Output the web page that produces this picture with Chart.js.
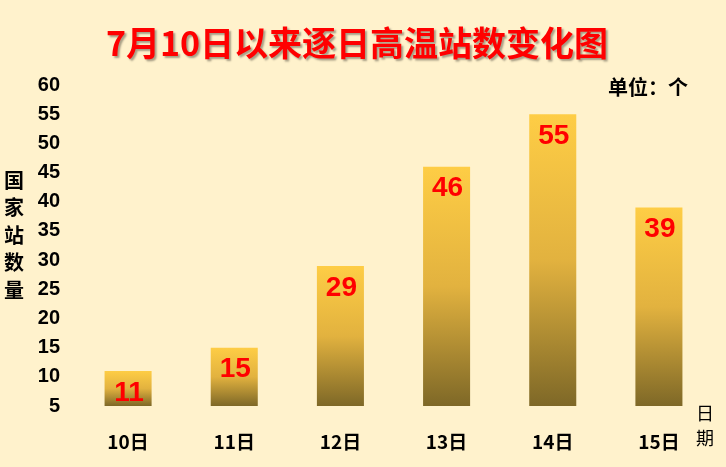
<!DOCTYPE html>
<html>
<head>
<meta charset="utf-8">
<script src="https://cdn.jsdelivr.net/npm/chart.js@4"></script>
<style>
  html, body { margin:0; padding:0; background:#FFF2CC; }
  #wrap { width:726px; height:467px; position:relative; }
</style>
</head>
<body>
<div id="wrap"><canvas id="myChart"></canvas></div>
<script>
// data
var days = ['10日', '11日', '12日', '13日', '14日', '15日'];
var stations = [11, 15, 29, 46, 55, 39];
var yTicks = [5, 10, 15, 20, 25, 30, 35, 40, 45, 50, 55, 60];
var titleText = '7月10日以来逐日高温站数变化图';
var yTitle = ['国', '家', '站', '数', '量'];
var xTitle = ['日', '期'];
var unitText = '单位：个';

var cjk = '"Noto Sans CJK SC", "Liberation Sans", sans-serif';
var latin = '"Liberation Sans", Arial, sans-serif';

function barGradient(ctx) {
    var chart = ctx.chart;
    if (!chart.chartArea || ctx.raw === undefined) return '#E8B840';
    var y = chart.scales.y;
    var top = y.getPixelForValue(ctx.raw);
    var bottom = y.getPixelForValue(y.min);
    var g = chart.ctx.createLinearGradient(0, top, 0, bottom);
    g.addColorStop(0, '#FECD45');
    g.addColorStop(0.5, '#E2B23F');
    g.addColorStop(1, '#7E6827');
    return g;
}

// texts that sit outside the axes, plus the red value labels
var extras = {
    id: 'extras',
    afterDatasetsDraw: function(chart) {
        var c = chart.ctx;
        c.save();
        // value labels inside the bars
        var meta = chart.getDatasetMeta(0);
        c.fillStyle = '#FF0000';
        c.font = 'bold 28px ' + latin;
        c.textAlign = 'center';
        c.textBaseline = 'middle';
        meta.data.forEach(function(bar, i) {
            c.fillText(String(stations[i]), bar.x + 1, bar.y + 22);
        });
        // title with a soft shadow
        c.font = 'bold 34px ' + cjk;
        c.shadowColor = 'rgba(0,0,0,0.35)';
        c.shadowOffsetX = 2;
        c.shadowOffsetY = 2;
        c.shadowBlur = 2;
        c.fillText(titleText, 357, 43);
        c.shadowColor = 'transparent';
        // unit
        c.fillStyle = '#000';
        c.font = 'bold 20px ' + cjk;
        c.fillText(unitText, 648, 87);
        // y axis title, vertical
        c.font = 'bold 20px ' + cjk;
        yTitle.forEach(function(ch, i) {
            c.fillText(ch, 14, 180 + i * 27.5);
        });
        // x axis title, vertical
        c.font = '18px ' + cjk;
        xTitle.forEach(function(ch, i) {
            c.fillText(ch, 705, 413 + i * 25);
        });
        c.restore();
    }
};

const ctx = document.getElementById('myChart').getContext('2d');
const myChart = new Chart(ctx, {
    type: 'bar',
    data: {
        labels: days,
        datasets: [{
            data: stations,
            backgroundColor: barGradient,
            borderWidth: 0,
            categoryPercentage: 1,
            barPercentage: 0.443
        }]
    },
    options: {
        responsive: true,
        maintainAspectRatio: false,
        animation: false,
        layout: { padding: { top: 85, right: 14, bottom: 0, left: 0 } },
        plugins: {
            legend: { display: false },
            tooltip: { enabled: false }
        },
        scales: {
            x: {
                grid: { display: false },
                border: { display: false },
                ticks: {
                    color: '#000',
                    font: { family: cjk, size: 19, weight: 'bold' },
                    padding: 16
                },
                afterFit: function(s) { s.height = 61; }
            },
            y: {
                min: 5,
                max: 60,
                grid: { display: false },
                border: { display: false },
                afterBuildTicks: function(s) {
                    s.ticks = yTicks.map(function(v) { return { value: v }; });
                },
                ticks: {
                    color: '#000',
                    font: { family: latin, size: 20, weight: 'bold' },
                    padding: 7
                },
                afterFit: function(s) { s.width = 75; }
            }
        }
    },
    plugins: [extras]
});
</script>
</body>
</html>
